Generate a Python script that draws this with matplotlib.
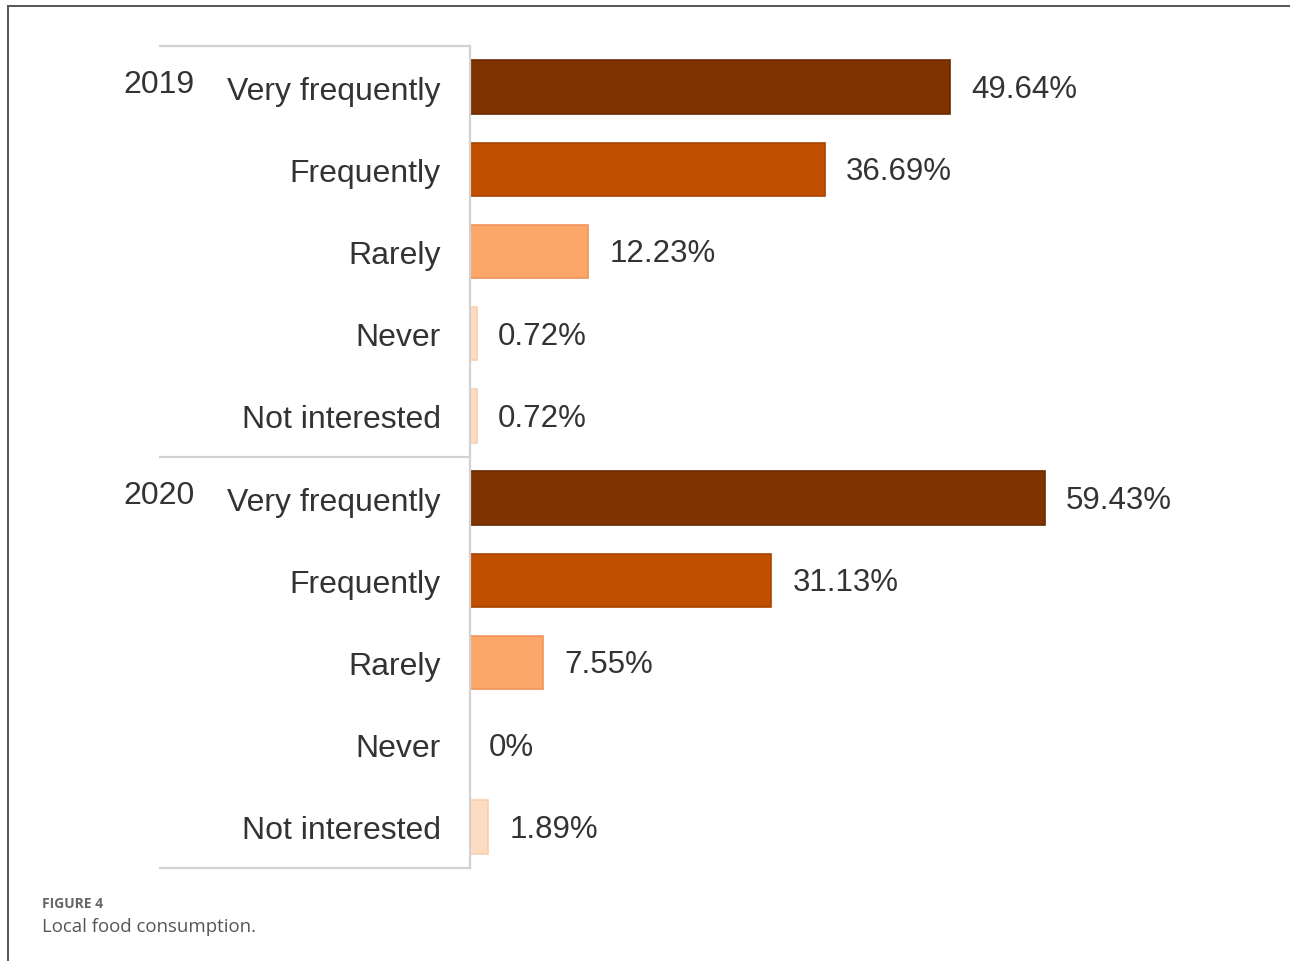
import matplotlib
matplotlib.use("Agg")
import matplotlib.pyplot as plt
from matplotlib.lines import Line2D

# survey answers per year
years = ["2019", "2020"]
answers = ["Very frequently", "Frequently", "Rarely", "Never", "Not interested"]
share_2019 = [49.64, 36.69, 12.23, 0.72, 0.72]
share_2020 = [59.43, 31.13, 7.55, 0.0, 1.89]
value_labels_2019 = ["49.64%", "36.69%", "12.23%", "0.72%", "0.72%"]
value_labels_2020 = ["59.43%", "31.13%", "7.55%", "0%", "1.89%"]

fills = ["#7f3300", "#c04f00", "#fda66a", "#fddcc2", "#fddcc2"]
edges = ["#6a2a00", "#a84400", "#f0955a", "#f8cfb0", "#f8cfb0"]

plt.rcParams['font.family'] = ['Liberation Sans', 'DejaVu Sans']
txt = "#333333"

W, H = 1290, 962
fig = plt.figure(figsize=(W / 100, H / 100), dpi=100)
ax = fig.add_axes([470 / W, 1 - 869 / H, 780 / W, 822 / H])

values = share_2019 + share_2020
labels = value_labels_2019 + value_labels_2020
ypos = list(range(len(values)))
colors = fills * 2
ecolors = edges * 2

ax.barh(ypos, values, height=0.65, color=colors, edgecolor=ecolors, linewidth=1.2)
ax.set_xlim(0, 780 / 9.67)
ax.set_ylim(len(values) - 0.5, -0.5)

for y, v, lab in zip(ypos, values, labels):
    ax.text(v + 2.2 if v > 0 else 1.9, y - 0.02, lab, va="center_baseline", ha="left",
            fontsize=22.5, color=txt)

ax.set_yticks(ypos)
ax.set_yticklabels(answers * 2, fontsize=23, color=txt, va="center_baseline")
ax.tick_params(axis="y", length=0, pad=21)
ax.set_xticks([])

for s in ["top", "right", "bottom"]:
    ax.spines[s].set_visible(False)
ax.spines["left"].set_color("#d2d2d2")
ax.spines["left"].set_linewidth(1.6)

# grouping box on the left: horizontal separators between the two years
tr = ax.get_yaxis_transform()
x0 = (160 - 470) / 780
for yb in [-0.5, 4.5, 9.5]:
    ax.plot([x0, 0], [yb, yb], transform=tr, color="#d2d2d2", lw=1.6, clip_on=False)

for i, yr in enumerate(years):
    ax.text((159 - 470) / 780, i * 5 - 0.08, yr, transform=tr, ha="center",
            va="center_baseline", fontsize=23, color=txt)

# page frame
fig.add_artist(Line2D([8 / W, 8 / W], [0, 1 - 7 / H], color="#555555", lw=1.4))
fig.add_artist(Line2D([8 / W, 1], [1 - 7 / H, 1 - 7 / H], color="#555555", lw=1.4))

fig.text(42 / W, 1 - 904 / H, "FIGURE 4", fontsize=10, color="#666666", fontweight="bold",
         family="Open Sans", va="center", ha="left")
fig.text(42 / W, 1 - 927 / H, "Local food consumption.", fontsize=13.4, color="#555555",
         family="Open Sans", va="center", ha="left")

fig.savefig("out.png", dpi=100)
